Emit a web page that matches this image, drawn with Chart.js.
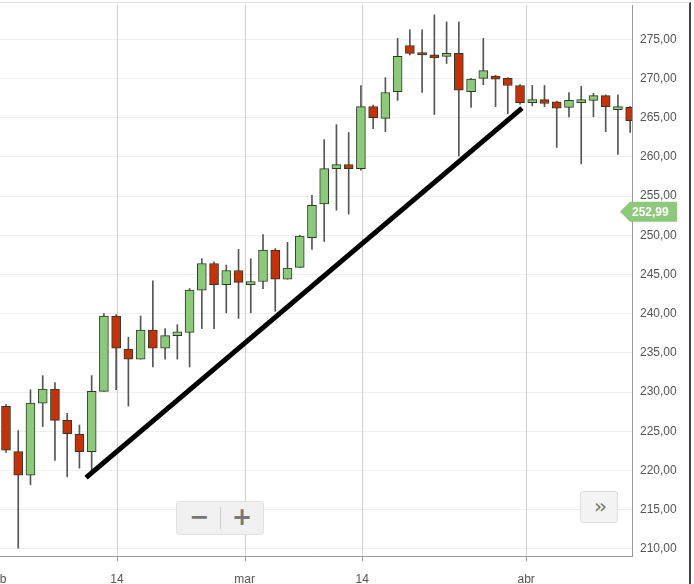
<!DOCTYPE html>
<html><head><meta charset="utf-8">
<script src="https://cdn.jsdelivr.net/npm/chart.js@4.4.1/dist/chart.umd.min.js"></script>
<style>
body{margin:0;background:#fff;overflow:hidden;font-family:"Liberation Sans",Arial,sans-serif}
#wrap{position:absolute;left:0;top:0;width:694px;height:584px;overflow:hidden}
#c{position:absolute;left:-20px;top:0}
.frame{position:absolute;left:0;top:2px;width:689px;height:582px;border-top:1px solid #ddd;border-right:2px solid #444;pointer-events:none}
.zoom{position:absolute;left:176px;top:501px;width:86px;height:32px;background:#f0f0f0;border:1px solid #e2e2e2;border-radius:3px;color:#777;font:bold 24px "DejaVu Sans",sans-serif}
.zoom span{position:absolute;top:1px}
.zoom i{position:absolute;left:43px;top:5px;width:1px;height:22px;background:#ccc}
.next{position:absolute;left:580px;top:491px;width:36px;height:30px;background:#f3f3f3;border:1px solid #ddd;border-radius:3px;color:#777;font:20px "DejaVu Sans",sans-serif;text-align:center;line-height:28px;letter-spacing:-3px}
</style></head>
<body>
<div id="wrap">
<canvas id="c" width="714" height="584"></canvas>
<div class="frame"></div>
<div class="zoom"><span style="left:12px">&minus;</span><i></i><span style="left:55px">+</span></div>
<div class="next">&rsaquo;&rsaquo;</div>
</div>
<script>
const opens  = [228.2,222.4,219.4,228.6,230.4,226.4,224.6,222.4,230.1,239.7,235.5,234.2,237.9,235.6,237.2,237.6,243,246.4,243.7,245.5,243.7,244.1,248.1,244.4,245.9,249.7,254,258.5,259,258.5,266.4,264.9,268.3,274.2,273.3,273,272.8,273.2,268.3,270,270.3,270,269.1,266.9,267.3,267,266.3,266.9,267.2,267.8,266,266.3];
const highs  = [228.4,225.1,230.3,232.1,231.2,227.3,225.8,232.1,240,239.9,237,239.7,244.2,238.1,238.6,243.2,247,246.6,246.2,248.2,247,250.1,248.3,249.1,250,255.1,262.2,264.1,263.1,269.1,266.6,270.1,275.1,276.2,276.2,278.1,277.2,277.2,270,275.1,270.4,270.1,269.2,269.1,269.1,267.1,268.2,269,268.1,267.9,267.9,266.4];
const lows   = [222.3,210.1,218.2,225.6,221.3,219.2,220.3,220.1,230.1,230.3,228.2,234.2,233.2,234.2,234.2,233.2,238.1,238.1,240.1,239.4,240.1,243.2,240.3,244.4,245.9,248.2,249.2,253.2,252.7,258.3,263.6,263.2,267.2,273,268.2,265.4,271.9,260.1,266.3,269.2,266.4,265.5,266.7,266.5,266.4,261.2,265.1,259.1,265.1,263.2,260.3,263.1];
const closes = [222.6,219.4,228.6,230.4,226.4,224.7,222.4,230.1,239.7,235.6,234.2,237.9,235.6,237.2,237.7,243,246.4,243.7,245.5,244,244.1,248.1,244.4,245.8,249.9,253.8,258.5,259,258.5,266.4,265,268.2,272.8,273.2,273,272.6,273.2,268.5,269.9,271,269.9,269.1,266.9,267.3,266.8,266.2,267.2,267.3,267.8,266.4,266.4,264.6];
const tickPositions = [-0.65, 9.07, 19.5, 29.1, 42.5];
const tickLabels = ["feb", "14", "mar", "14", "abr"];
const priceTicks = [210,215,220,225,230,235,240,245,250,255,260,265,270,275];
const trendLine = [{x:6.54, y:219.1}, {x:42.16, y:266.2}];
const lastPrice = 252.99;

const GREEN = "#8dc97a", RED = "#c3320b";
const idx = opens.map((_, i) => i);
const bodies = idx.map(i => ({x:i, y:[Math.min(opens[i],closes[i]), Math.max(opens[i],closes[i])]}));
const wicks = idx.map(i => ({x:i, y:[lows[i], highs[i]]}));
const colors = idx.map(i => closes[i] >= opens[i] ? GREEN : RED);
const fmt = v => v.toFixed(2).replace(".", ",");

const extras = {
  id: "extras",
  beforeDatasetsDraw(chart){
    const ctx = chart.ctx, a = chart.chartArea, xs = chart.scales.x;
    ctx.save();
    ctx.lineWidth = 1;
    tickPositions.forEach(v => {
      const x = Math.round(xs.getPixelForValue(v)) + 0.5;
      ctx.strokeStyle = "#cfcfcf";
      ctx.beginPath(); ctx.moveTo(x, a.top); ctx.lineTo(x, a.bottom); ctx.stroke();
      ctx.strokeStyle = "#999";
      ctx.beginPath(); ctx.moveTo(x, a.bottom); ctx.lineTo(x, a.bottom+5); ctx.stroke();
    });
    ctx.restore();
  },
  afterDraw(chart){
    const ctx = chart.ctx, y = chart.scales.y.getPixelForValue(lastPrice);
    const x0 = 640, x1 = 697;
    ctx.save();
    ctx.fillStyle = "#8dc97a";
    ctx.beginPath();
    ctx.moveTo(x0, y); ctx.lineTo(x0+10, y-10); ctx.lineTo(x1, y-10);
    ctx.lineTo(x1, y+10); ctx.lineTo(x0+10, y+10); ctx.closePath(); ctx.fill();
    ctx.fillStyle = "#fff"; ctx.font = "bold 12px 'Liberation Sans', Arial";
    ctx.textAlign = "left"; ctx.textBaseline = "middle";
    ctx.fillText(fmt(lastPrice), x0+12, y+1);
    ctx.restore();
  }
};

new Chart(document.getElementById("c").getContext("2d"), {
  data: {
    datasets: [
      { type:"bar", data: wicks, backgroundColor:"#555", barThickness:1, grouped:false, order:3 },
      { type:"bar", data: bodies, backgroundColor: colors, borderColor:"#2c3b22", borderWidth:1, borderSkipped:false, barThickness:9, grouped:false, order:2, minBarLength:2 },
      { type:"line", data: trendLine, borderColor:"#000", borderWidth:5, pointRadius:0, order:1 }
    ]
  },
  options: {
    responsive:false, animation:false,
    layout:{ padding:{ left:20, top:5, right:0, bottom:0 } },
    plugins:{ legend:{display:false}, tooltip:{enabled:false} },
    scales:{
      x:{ type:"linear", min:-0.49, max:51.15, offset:false,
        afterBuildTicks: s => { s.ticks = tickPositions.map(v => ({value:v})); },
        afterFit: s => { s.height = 28; s.paddingLeft = 0; s.paddingRight = 0; },
        ticks:{ autoSkip:false, maxRotation:0, color:"#555", font:{size:12, family:"'Liberation Sans', Arial"}, padding:8,
          callback: (v, i) => tickLabels[i] },
        grid:{ display:false },
        border:{ display:true, color:"#999" }
      },
      y:{ position:"right", min:209.1, max:279.36,
        afterBuildTicks: s => { s.ticks = priceTicks.map(v => ({value:v})); },
        afterFit: s => { s.width = 62; s.paddingTop = 0; s.paddingBottom = 0; },
        ticks:{ autoSkip:false, color:"#555", font:{size:12, family:"'Liberation Sans', Arial"}, padding:8,
          callback: v => fmt(v) },
        grid:{ color:"#eeeeee", drawTicks:false },
        border:{ color:"#999" }
      }
    }
  },
  plugins:[extras]
});
</script>
</body></html>
